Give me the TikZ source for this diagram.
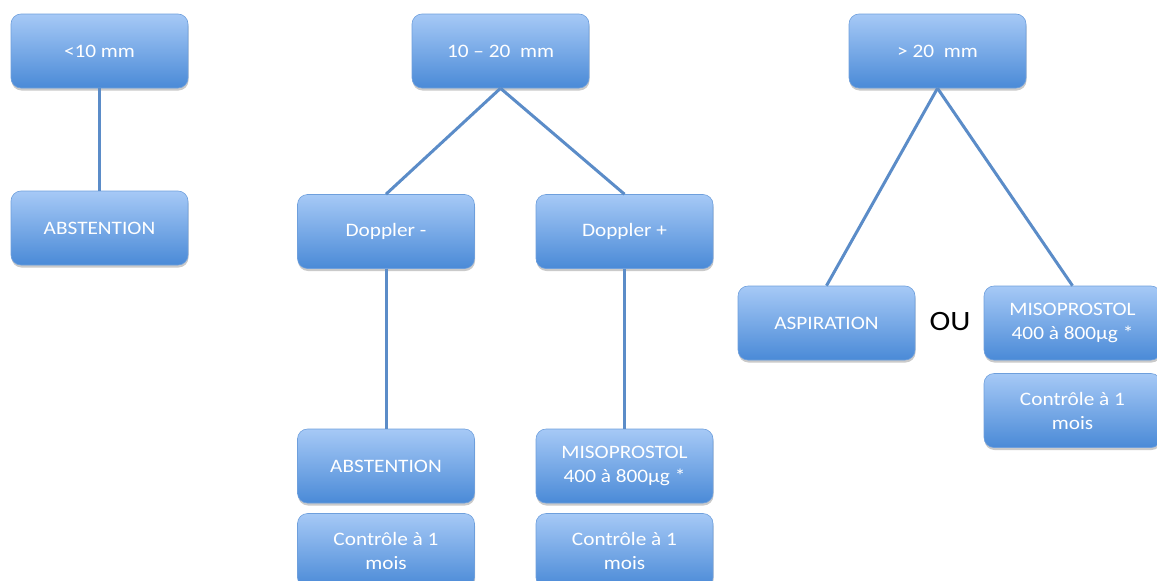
\documentclass[tikz,border=0pt]{standalone}
\usepackage{fontspec}
\setmainfont{Carlito}[FakeStretch=1.12]
\usetikzlibrary{shadows}
\definecolor{boxtop}{HTML}{A6C9F6}
\definecolor{boxmid}{HTML}{7EB0EC}
\definecolor{boxbot}{HTML}{4A8AD7}
\definecolor{boxedge}{HTML}{6E9FDC}
\definecolor{linkcol}{HTML}{5B8CC8}
\tikzset{
  box/.style={rectangle, rounded corners=10pt, minimum width=177pt, minimum height=74pt,
    inner sep=0pt, align=center, text=white, font=\fontsize{19}{24}\selectfont,
    top color=boxtop, middle color=boxmid, bottom color=boxbot, draw=boxedge, line width=0.6pt,
    drop shadow={shadow xshift=0.5pt, shadow yshift=-2.5pt, opacity=0.35, fill=black!60}},
  link/.style={draw=linkcol, line width=3pt}
}
\begin{document}
\begin{tikzpicture}[x=1pt,y=-1pt]
\useasboundingbox (0,0) rectangle (1157,581);
% left
\node[box] (a) at (99.5,51) {<10 mm};
\node[box] (a1) at (99.5,228) {ABSTENTION};
% middle
\node[box] (b) at (500.5,51) {10 -- 20\ \ mm};
\node[box] (bm) at (386,231.5) {Doppler -};
\node[box] (bp) at (624.5,231.5) {Doppler +};
\node[box] (bm1) at (386,466) {ABSTENTION};
\node[box] (bp1) at (624.5,466) {MISOPROSTOL\\400 à 800µg *};
\node[box] (bm2) at (386,550.5) {Contrôle à 1\\mois};
\node[box] (bp2) at (624.5,550.5) {Contrôle à 1\\mois};
% right
\node[box] (c) at (937.5,51) {> 20\ \ mm};
\node[box] (c1) at (826.5,323) {ASPIRATION};
\node[box] (c2) at (1072.5,323) {MISOPROSTOL\\400 à 800µg *};
\node[box] (c3) at (1072.5,410.5) {Contrôle à 1\\mois};
\node[font=\fontsize{28}{32}\selectfont, text=black] (ou) at (950,322) {OU};
% links
\draw[link] (a.south) -- (a1.north);
\draw[link] (b.south) -- (bm.north);
\draw[link] (b.south) -- (bp.north);
\draw[link] (bm.south) -- (bm1.north);
\draw[link] (bp.south) -- (bp1.north);
\draw[link] (c.south) -- (c1.north);
\draw[link] (c.south) -- (c2.north);
\end{tikzpicture}
\end{document}
